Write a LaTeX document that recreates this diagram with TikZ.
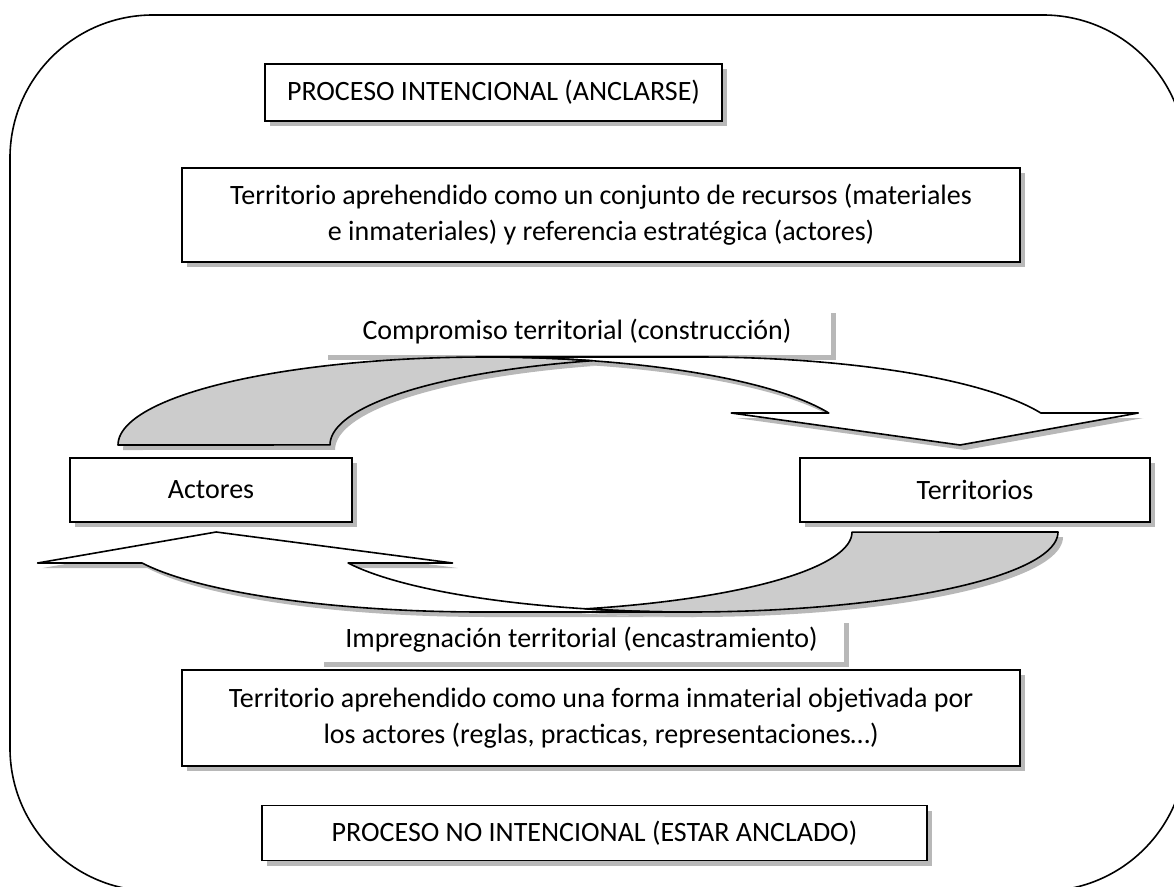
\documentclass[tikz,border=0pt]{standalone}
\usepackage{fontspec}
\setmainfont{Carlito}
\usetikzlibrary{shadows}
\tikzset{
  boxsh/.style={drop shadow={shadow xshift=5pt, shadow yshift=-5pt, opacity=1, fill=black!28}},
  textbox/.style={draw, line width=1.4pt, fill=white, align=center, inner sep=0pt, boxsh, font=\fontsize{28}{36}\selectfont},
  labelbox/.style={fill=white, inner sep=0pt, align=center, boxsh, font=\fontsize{28}{36}\selectfont},
  arrowline/.style={line width=1.6pt, line join=round},
  arrowback/.style={fill=black!20},
  arrowfront/.style={fill=white},
  arrowshadow/.style={fill=black!28},
}
\newcommand\cvsetup[7]{%
  \pgfmathsetmacro\cvl{#1}\pgfmathsetmacro\cvt{#2}\pgfmathsetmacro\cvb{#3}%
  \pgfmathsetmacro\cvth{#4}\pgfmathsetmacro\cvr{#5}%
  \pgfmathsetmacro\cvh{#3-#2}%
  \pgfmathsetmacro\cvA{#1+#5}%
  \pgfmathsetmacro\cvB{#1+#5+#4}%
  \pgfmathsetmacro\cvya{#3-#6}%
  \pgfmathsetmacro\cvphi{asin(#6/\cvh)}%
  \pgfmathsetmacro\cvxv{\cvA+#5*cos(\cvphi)}%
  \pgfmathsetmacro\cvxs{\cvB+#5*cos(\cvphi)}%
  \pgfmathsetmacro\cvxq{\cvxv-(#7-#4)/2}%
  \pgfmathsetmacro\cvxe{\cvxs+(#7-#4)/2}%
  \pgfmathsetmacro\cvtip{#1+2*(#5+(#4+#7)/4)-#7/2}%
  \pgfmathsetmacro\cvpsi{acos(#4/(2*#5))}%
}
\newcommand\cvfront[1]{%
  \path[#1] (\cvtip,\cvb) -- (\cvxq,\cvya) -- (\cvxv,\cvya)
    -- plot[domain=0:1,samples=50,variable=\t] ({\cvA+\cvr*cos(\cvphi+\t*(90-\cvphi))},{\cvb-\cvh*sin(\cvphi+\t*(90-\cvphi))})
    -- (\cvB,\cvt)
    -- plot[domain=0:1,samples=50,variable=\t] ({\cvB+\cvr*cos(90-\t*(90-\cvphi))},{\cvb-\cvh*sin(90-\t*(90-\cvphi))})
    -- (\cvxe,\cvya) -- cycle;}
\newcommand\cvback[1]{%
  \path[#1] (\cvl,\cvb)
    -- plot[domain=0:1,samples=60,variable=\t] ({\cvA+\cvr*cos(180-\t*(180-\cvpsi))},{\cvb-\cvh*sin(180-\t*(180-\cvpsi))})
    -- plot[domain=0:1,samples=60,variable=\t] ({\cvB+\cvr*cos(180-\cvpsi+\t*\cvpsi)},{\cvb-\cvh*sin(180-\cvpsi+\t*\cvpsi)})
    -- cycle;}
\begin{document}
\begin{tikzpicture}[x=1pt,y=-1pt]
\useasboundingbox (0,0) rectangle (1174,886);
\fill[white] (0,0) rectangle (1174,886);
\begin{scope}
\clip (0,0) rectangle (1174,886);
\draw[line width=1.6pt, rounded corners=143pt] (10,15) rectangle (1186,891);
\end{scope}

\node[textbox, minimum width=457, minimum height=57] (p1) at (493.5,92.5) {PROCESO INTENCIONAL (ANCLARSE)};
\node[textbox, minimum width=838, minimum height=94] (t1) at (601,215) {Territorio aprehendido como un conjunto de recursos (materiales\\e inmateriales) y referencia estratégica (actores)};
\node[labelbox, minimum width=508, minimum height=47] (c1) at (577,331.5) {Compromiso territorial (construcción)};
\node[textbox, minimum width=282, minimum height=64] (act) at (211,490) {Actores};
\node[textbox, minimum width=350, minimum height=64] (ter) at (975,490) {Territorios};
\node[labelbox, minimum width=525, minimum height=44] (c2) at (581.5,640) {Impregnación territorial (encastramiento)};
\node[textbox, minimum width=838, minimum height=96] (t2) at (601,718) {Territorio aprehendido como una forma inmaterial objetivada por\\los actores (reglas, practicas, representaciones…)};
\node[textbox, minimum width=665, minimum height=55] (p2) at (594.5,833) {PROCESO NO INTENCIONAL (ESTAR ANCLADO)};

% top curved arrow (actores -> territorios)
\begin{scope}
\cvsetup{118}{357}{445}{212}{368}{32}{407}
\begin{scope}[shift={(5,5)}]
\cvfront{arrowshadow}\cvback{arrowshadow}
\end{scope}
\cvfront{arrowfront}
\cvback{arrowback}
\cvfront{draw, arrowline}
\cvback{draw, arrowline}
\end{scope}

% bottom curved arrow (territorios -> actores)
\begin{scope}
\cvsetup{-1058}{-612}{-532}{206}{369.4}{31}{415}
\begin{scope}[shift={(5,5)}]
\begin{scope}[xscale=-1,yscale=-1]
\cvfront{arrowshadow}\cvback{arrowshadow}
\end{scope}
\end{scope}
\begin{scope}[xscale=-1,yscale=-1]
\cvfront{arrowfront}
\cvback{arrowback}
\cvfront{draw, arrowline}
\cvback{draw, arrowline}
\end{scope}
\end{scope}
\end{tikzpicture}
\end{document}
